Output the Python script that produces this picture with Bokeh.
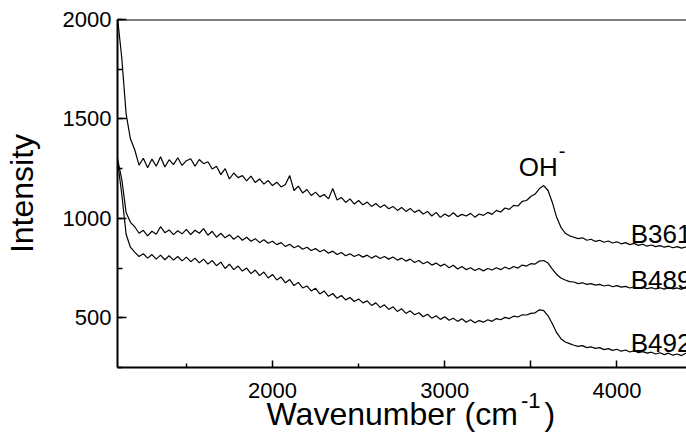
from bokeh.plotting import figure
from bokeh.models import Range1d, Label, Span, SingleIntervalTicker, FixedTicker, ColumnDataSource
from bokeh.embed import file_html
from bokeh.resources import INLINE

FONT = "Liberation Sans"
NB = "\u00a0"

wavenumber = [
    1100, 1125, 1150, 1175, 1200, 1225, 1250, 1275,
    1300, 1325, 1350, 1375, 1400, 1425, 1450, 1475,
    1500, 1525, 1550, 1575, 1600, 1625, 1650, 1675,
    1700, 1725, 1750, 1775, 1800, 1825, 1850, 1875,
    1900, 1925, 1950, 1975, 2000, 2025, 2050, 2075,
    2100, 2125, 2150, 2175, 2200, 2225, 2250, 2275,
    2300, 2325, 2350, 2375, 2400, 2425, 2450, 2475,
    2500, 2525, 2550, 2575, 2600, 2625, 2650, 2675,
    2700, 2725, 2750, 2775, 2800, 2825, 2850, 2875,
    2900, 2925, 2950, 2975, 3000, 3025, 3050, 3075,
    3100, 3125, 3150, 3175, 3200, 3225, 3250, 3275,
    3300, 3325, 3350, 3375, 3400, 3425, 3450, 3475,
    3500, 3525, 3550, 3575, 3600, 3625, 3650, 3675,
    3700, 3725, 3750, 3775, 3800, 3825, 3850, 3875,
    3900, 3925, 3950, 3975, 4000, 4025, 4050, 4075,
    4100, 4125, 4150, 4175, 4200, 4225, 4250, 4275,
    4300, 4325, 4350, 4375, 4400, 4425, 4450, 4475,
    4500,
]

b361 = [
    2010, 1805, 1525, 1400, 1345, 1268, 1302, 1255,
    1298, 1262, 1310, 1258, 1295, 1270, 1305, 1266,
    1290, 1300, 1262, 1296, 1275, 1285, 1248, 1262,
    1220, 1250, 1198, 1228, 1205, 1215, 1188, 1212,
    1180, 1198, 1172, 1190, 1165, 1182, 1158, 1170,
    1215, 1140, 1162, 1128, 1145, 1115, 1132, 1108,
    1120, 1098, 1150, 1092, 1105, 1080, 1098, 1072,
    1090, 1068, 1082, 1060, 1075, 1055, 1068, 1048,
    1060, 1040, 1055, 1035, 1050, 1030, 1042, 1022,
    1035, 1012, 1030, 1005, 1022, 1010, 1028, 1008,
    1020, 1012, 1025, 1006, 1022, 1015, 1030, 1020,
    1040, 1032, 1052, 1045, 1065, 1062, 1085, 1090,
    1110, 1122, 1150, 1165, 1140, 1080, 1005, 955,
    925, 912, 905, 898, 902, 890, 895, 884,
    890, 880, 886, 876, 882, 872, 878, 868,
    874, 864, 870, 860, 866, 858, 863, 855,
    860, 852, 858, 850, 856, 848, 853, 846,
    851,
]

b489 = [
    1300, 1195, 1030, 980, 958, 925, 940, 912,
    935, 920, 958, 928, 942, 918, 938, 922,
    945, 918, 940, 925, 948, 915, 935, 905,
    925, 902, 918, 895, 912, 890, 905, 885,
    898, 878, 892, 875, 885, 868, 878, 858,
    870, 852, 862, 845, 855, 838, 848, 832,
    842, 825, 835, 818, 828, 812, 822, 808,
    818, 805, 815, 800, 812, 798, 808, 795,
    806, 790, 800, 785, 795, 778, 788, 772,
    782, 765, 775, 760, 770, 752, 764, 745,
    758, 742, 752, 738, 748, 736, 748, 740,
    752, 742, 755, 745, 758, 750, 765, 760,
    772, 770, 785, 788, 775, 745, 718, 700,
    690, 682, 680, 672, 676, 668, 672, 664,
    668, 660, 665, 656, 662, 654, 658, 650,
    656, 648, 654, 646, 652, 645, 651, 644,
    652, 645, 650, 643, 656, 645, 650, 642,
    648,
]

b492 = [
    1290, 1120, 920, 855, 830, 808, 822, 800,
    818, 795, 815, 792, 812, 790, 808, 786,
    805, 782, 800, 776, 795, 770, 788, 762,
    780, 748, 770, 742, 760, 735, 750, 722,
    740, 712, 730, 700, 718, 690, 705, 676,
    692, 662, 678, 650, 660, 635, 648, 620,
    635, 608, 622, 598, 612, 590, 602, 582,
    595, 575, 585, 562, 575, 552, 565, 542,
    555, 532, 545, 522, 535, 515, 525, 505,
    518, 498, 510, 492, 505, 488, 498, 482,
    495, 478, 490, 475, 486, 478, 490, 482,
    496, 490, 502, 496, 508, 504, 515, 514,
    522, 525, 540, 536, 510, 470, 425, 395,
    378, 370, 362, 356, 360, 350, 354, 346,
    350, 340, 345, 336, 342, 332, 338, 328,
    334, 325, 330, 322, 327, 318, 324, 315,
    322, 312, 318, 310, 322, 308, 314, 306,
    312,
]

series_names = ["B361", "B489", "B492"]
x_major_ticks = [2000, 3000, 4000]
x_minor_ticks = [1500, 2500, 3500, 4500]
superscript_tick = 3500
y_ticks_interval = 500

src = ColumnDataSource(dict(x=wavenumber, b361=b361, b489=b489, b492=b492))

p = figure(width=686, height=436, output_backend="svg", toolbar_location=None,
           x_range=Range1d(1100, 4404), y_range=Range1d(250, 2000),
           min_border_left=116, min_border_right=0, min_border_top=19,
           min_border_bottom=69)
p.outline_line_color = None
p.xgrid.visible = False
p.ygrid.visible = False
p.background_fill_color = "white"
p.border_fill_color = "white"

for col in ["b361", "b489", "b492"]:
    p.line("x", col, source=src, line_color="black", line_width=1.2)

# x axis (the "-1" superscript of the title rides on the 3500 tick as a second text line)
xa = p.xaxis[0]
xa.ticker = FixedTicker(ticks=x_major_ticks + [superscript_tick],
                        minor_ticks=[t for t in x_minor_ticks if t != superscript_tick])
xa.major_label_overrides = {superscript_tick: "\n-1"}
xa.axis_line_width = 2
xa.major_tick_in = 7
xa.major_tick_out = 0
xa.minor_tick_in = 4
xa.minor_tick_out = 0
xa.major_tick_line_width = 1.5
xa.minor_tick_line_width = 1.5
xa.major_label_text_font = FONT
xa.major_label_text_font_size = "22px"
xa.major_label_text_color = "black"
xa.major_label_text_line_height = 0.43
xa.major_label_standoff = 10
xa.axis_label = NB + NB + "Wavenumber (cm" + NB + NB + NB + ")"
xa.axis_label_text_font = FONT
xa.axis_label_text_font_size = "32px"
xa.axis_label_text_font_style = "normal"
xa.axis_label_text_color = "black"
xa.axis_label_standoff = -20

ya = p.yaxis[0]
ya.ticker = SingleIntervalTicker(interval=y_ticks_interval, num_minor_ticks=2)
ya.axis_line_width = 2
ya.major_tick_in = 9
ya.major_tick_out = 0
ya.minor_tick_in = 5
ya.minor_tick_out = 0
ya.major_tick_line_width = 1.5
ya.minor_tick_line_width = 1.5
ya.major_label_text_font = FONT
ya.major_label_text_font_size = "22px"
ya.major_label_text_color = "black"
ya.major_label_standoff = 6
ya.axis_label = "Intensity"
ya.axis_label_text_font = FONT
ya.axis_label_text_font_size = "32px"
ya.axis_label_text_font_style = "normal"
ya.axis_label_text_color = "black"
ya.axis_label_standoff = 20

# top border line
p.add_layout(Span(location=2000, dimension="width", line_color="black", line_width=2))

# curve labels
label_x = [4080, 4080, 4080]
label_y = [922, 690, 372]
for name, lx, ly in zip(series_names, label_x, label_y):
    p.add_layout(Label(x=lx, y=ly, text=name, text_font=FONT, text_font_size="26px",
                       text_color="black", text_baseline="alphabetic", text_align="left"))

p.add_layout(Label(x=3430, y=1260, text="OH", text_font=FONT, text_font_size="26px",
                   text_color="black", text_baseline="alphabetic", text_align="left"))
p.add_layout(Label(x=3662, y=1338, text="-", text_font=FONT, text_font_size="20px",
                   text_color="black", text_baseline="alphabetic", text_align="left"))

open("out.html", "w").write(file_html(p, INLINE))
